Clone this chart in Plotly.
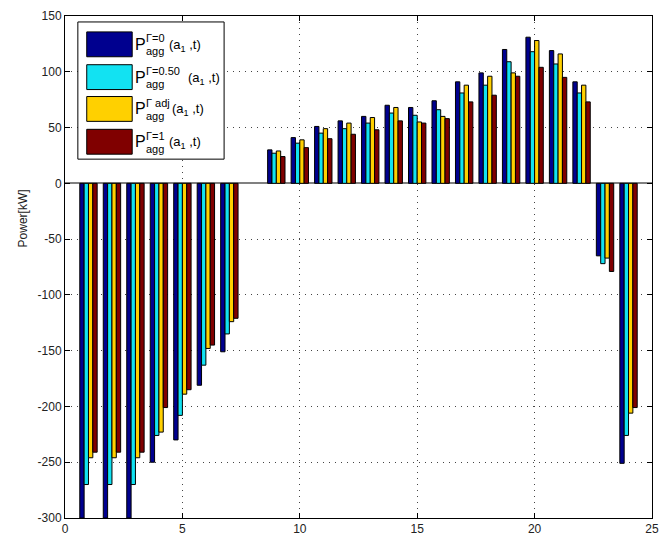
import plotly.graph_objects as go

hours = list(range(1, 25))
p_gamma0 = [-300, -300, -300, -250, -230, -181, -151, None, 30, 41, 51, 56, 60, 70, 68, 74,
            91, 99, 120, 131, 119, 91, -65, -251]
p_gamma050 = [-270, -270, -270, -226, -208, -163, -135, None, 27, 36, 45, 49, 54, 63, 61, 66,
              81, 88, 109, 118, 107, 81, -72, -226]
p_gamma_adj = [-246, -246, -246, -223, -189, -148, -124, None, 29, 39, 49, 54, 59, 68, 55, 60,
               88, 96, 99, 128, 116, 88, -67, -206]
p_gamma1 = [-241, -241, -241, -201, -185, -145, -121, None, 24, 32, 40, 44, 48, 56, 54, 58,
            73, 79, 96, 104, 95, 73, -79, -201]

series = [
    ("Γ=0", p_gamma0, "#00008F"),
    ("Γ=0.50", p_gamma050, "#12E2F2"),
    ("Γ adj", p_gamma_adj, "#FFD000"),
    ("Γ=1", p_gamma1, "#800000"),
]
x_ticks = [0, 5, 10, 15, 20, 25]
y_ticks = [-300, -250, -200, -150, -100, -50, 0, 50, 100, 150]
y_tick_labels = [str(v) for v in y_ticks]

W, H = 665, 542
ML, MR, MT, MB = 65, 6, 16, 21
PW, PH = W - ML - MR, H - MT - MB


def px(xp):
    return (xp - ML) / PW


def py(yp):
    return (H - MB - yp) / PH


fig = go.Figure()
for name, vals, col in series:
    fig.add_trace(go.Bar(
        x=hours, y=vals, name=name,
        marker=dict(color=col, line=dict(color="black", width=1)),
        showlegend=False,
    ))

font = "Liberation Sans, Arial, sans-serif"
axis_common = dict(
    showline=True, mirror="allticks", linecolor="black", linewidth=1,
    ticks="inside", ticklen=5, tickcolor="black",
    showgrid=True, gridcolor="#444", griddash="1px,5px", gridwidth=1,
    tickfont=dict(family=font, size=12, color="#222"),
)
fig.update_xaxes(range=[0, 25], tickvals=x_ticks, zeroline=False, **axis_common)
fig.update_yaxes(range=[-300, 150], tickvals=y_ticks, ticktext=y_tick_labels, zeroline=True,
                 zerolinecolor="#808080", zerolinewidth=2, **axis_common)

shapes = [dict(type="rect", xref="paper", yref="paper", x0=px(78), x1=px(226),
               y0=py(160), y1=py(22), fillcolor="white",
               line=dict(color="black", width=1), layer="above")]
annotations = [dict(text="Power[kW]", xref="paper", yref="paper", x=px(13), y=py(220),
                    textangle=-90, showarrow=False,
                    font=dict(family=font, size=12, color="#222"))]
tops = [32, 65, 97, 130]
tails = [168, 187, 171, 168]
for (name, vals, col), top, tail in zip(series, tops, tails):
    shapes.append(dict(type="rect", xref="paper", yref="paper", x0=px(87), x1=px(133),
                       y0=py(top + 25), y1=py(top), fillcolor=col,
                       line=dict(color="black", width=1), layer="above"))
    cy = top + 12.5
    annotations.append(dict(text="P", xref="paper", yref="paper", x=px(134), y=py(cy),
                            xanchor="left", yanchor="middle", showarrow=False,
                            font=dict(family=font, size=16, color="black")))
    annotations.append(dict(text=name, xref="paper", yref="paper", x=px(145), y=py(cy - 6),
                            xanchor="left", yanchor="middle", showarrow=False,
                            font=dict(family=font, size=11, color="black")))
    annotations.append(dict(text="agg", xref="paper", yref="paper", x=px(145), y=py(cy + 7),
                            xanchor="left", yanchor="middle", showarrow=False,
                            font=dict(family=font, size=11, color="black")))
    annotations.append(dict(text="(a<sub>1</sub> ,t)", xref="paper", yref="paper",
                            x=px(tail), y=py(cy + 1),
                            xanchor="left", yanchor="middle", showarrow=False,
                            font=dict(family=font, size=13, color="black")))

fig.update_layout(
    width=W, height=H,
    margin=dict(l=ML, r=MR, t=MT, b=MB),
    paper_bgcolor="white", plot_bgcolor="white",
    barmode="group", bargap=0.26, bargroupgap=0,
    shapes=shapes, annotations=annotations,
    showlegend=False,
)
fig.write_html("out.html", config={"displayModeBar": False},
               post_script="document.body.style.margin='0';document.body.style.overflow='hidden';")
